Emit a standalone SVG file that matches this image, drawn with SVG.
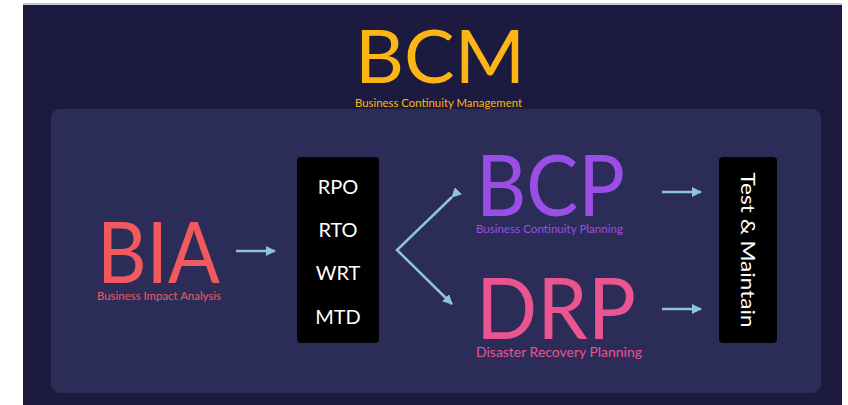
<svg xmlns="http://www.w3.org/2000/svg" width="848" height="405" viewBox="0 0 848 405">
  <defs>
    <style>
      .big { font-family: Lato, "Open Sans", "Liberation Sans", sans-serif; font-weight: 400; }
      .sub { font-family: Lato, "Open Sans", "Liberation Sans", sans-serif; font-weight: 400; }
      .box { fill: #000000; }
      .boxtxt { font-family: Lato, "Open Sans", "Liberation Sans", sans-serif; font-size: 20px; fill: #ffffff; text-anchor: middle; }
      .conn { stroke: #8ec3e0; stroke-width: 2.5; fill: none; }
    </style>
    <marker id="ah" viewBox="0 0 10 10" refX="9" refY="5" markerWidth="4" markerHeight="4" markerUnits="strokeWidth" orient="auto">
      <path d="M0,0 L10,5 L0,10 z" fill="#8ec3e0"/>
    </marker>
  </defs>

  <rect x="0" y="0" width="848" height="405" fill="#ffffff"/>
  <rect x="23" y="3" width="819" height="2" fill="#c8c8d4"/>
  <rect x="23" y="5" width="819" height="400" fill="#1c1a3e"/>
  <rect x="51" y="109" width="770" height="284" rx="9" fill="#2c2c58"/>

  <g id="bcm">
    <text class="big" x="440" y="83" font-size="74" fill="#fbb616" text-anchor="middle" textLength="170" lengthAdjust="spacingAndGlyphs">BCM</text>
    <text class="sub" x="438.5" y="107" font-size="12" fill="#fbb616" text-anchor="middle" textLength="167" lengthAdjust="spacingAndGlyphs">Business Continuity Management</text>
  </g>

  <g id="bia">
    <text class="big" x="97" y="283" font-size="85" fill="#f2595c" textLength="123" lengthAdjust="spacingAndGlyphs">BIA</text>
    <text class="sub" x="97" y="300" font-size="12" fill="#f2595c" textLength="124" lengthAdjust="spacingAndGlyphs">Business Impact Analysis</text>
  </g>

  <g id="metrics">
    <rect class="box" x="297" y="157" width="82" height="186" rx="4"/>
    <text class="boxtxt" x="338" y="194">RPO</text>
    <text class="boxtxt" x="338" y="237">RTO</text>
    <text class="boxtxt" x="338" y="280">WRT</text>
    <text class="boxtxt" x="338" y="324">MTD</text>
  </g>

  <g id="bcp">
    <text class="big" x="476" y="216" font-size="85" fill="#9a4ee6" textLength="149" lengthAdjust="spacingAndGlyphs">BCP</text>
    <text class="sub" x="476" y="233" font-size="12" fill="#9a4ee6" textLength="147" lengthAdjust="spacingAndGlyphs">Business Continuity Planning</text>
  </g>

  <g id="drp">
    <text class="big" x="476" y="339" font-size="85" fill="#ea5490" textLength="160" lengthAdjust="spacingAndGlyphs">DRP</text>
    <text class="sub" x="476" y="357" font-size="13" fill="#ea5490" textLength="166" lengthAdjust="spacingAndGlyphs">Disaster Recovery Planning</text>
  </g>

  <g id="test-maintain">
    <rect class="box" x="719" y="157" width="58" height="186" rx="4"/>
    <text class="boxtxt" transform="translate(748,250) rotate(90)" x="0" y="7" textLength="155" lengthAdjust="spacingAndGlyphs">Test &amp; Maintain</text>
  </g>

  <g id="connectors">
    <line class="conn" x1="236" y1="251" x2="275" y2="251" marker-end="url(#ah)"/>
    <polyline class="conn" points="452,197 397,250 452,304" marker-start="url(#ah)" marker-end="url(#ah)" stroke-linejoin="miter"/>
    <line class="conn" x1="662" y1="192" x2="701" y2="192" marker-end="url(#ah)"/>
    <line class="conn" x1="662" y1="309" x2="701" y2="309" marker-end="url(#ah)"/>
  </g>
</svg>
